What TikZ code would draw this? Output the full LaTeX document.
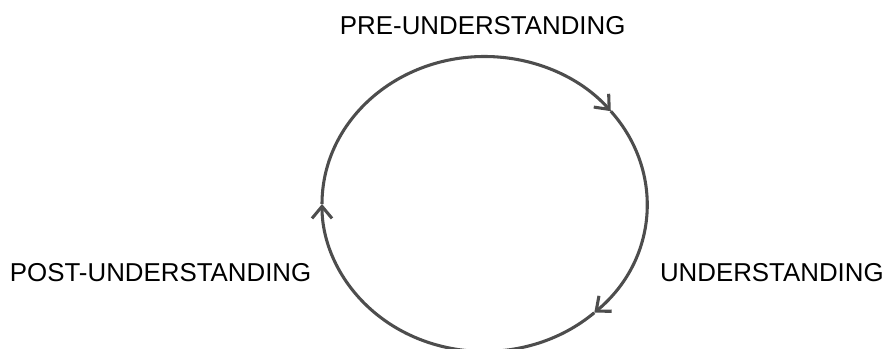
\documentclass[tikz,border=0pt]{standalone}
\usepackage{fontspec}
\setmainfont{Liberation Sans}
\usetikzlibrary{arrows.meta,positioning,calc}
\definecolor{cyclegray}{HTML}{4D4D4D}
\begin{document}
\begin{tikzpicture}[x=0.75pt,y=0.75pt,>={Straight Barb[length=9pt,width=15pt]},
	flow/.style={->,draw=cyclegray,line width=2.3pt},
	stage/.style={inner sep=0pt,anchor=base west,font=\fontsize{19.4pt}{23pt}\selectfont}]
	\useasboundingbox (0,0) rectangle (885,349);
	\clip (0,0) rectangle (885,349);
	\coordinate (c) at (484.5,145);
	\node[stage] (pre) at (339.7,314.7) {PRE-UNDERSTANDING};
	\node[stage,anchor=base east] (und) at (884,67.3) {UNDERSTANDING};
	\node[stage] (post) at (9.7,67) {POST-UNDERSTANDING};
	% arrow tips on the cycle
	\coordinate (tl) at ($(c)+(180:162.5 and 147.5)$);
	\coordinate (tr) at ($(c)+(39:162.5 and 147.5)$);
	\coordinate (tb) at ($(c)+(-47.5:162.5 and 147.5)$);
	\draw[flow] (tl) arc[start angle=180,end angle=39,x radius=162.5,y radius=147.5];
	\draw[flow] (tr) arc[start angle=39,end angle=-47.5,x radius=162.5,y radius=147.5];
	\draw[flow] (tb) arc[start angle=-47.5,end angle=-180,x radius=162.5,y radius=147.5];
\end{tikzpicture}
\end{document}
